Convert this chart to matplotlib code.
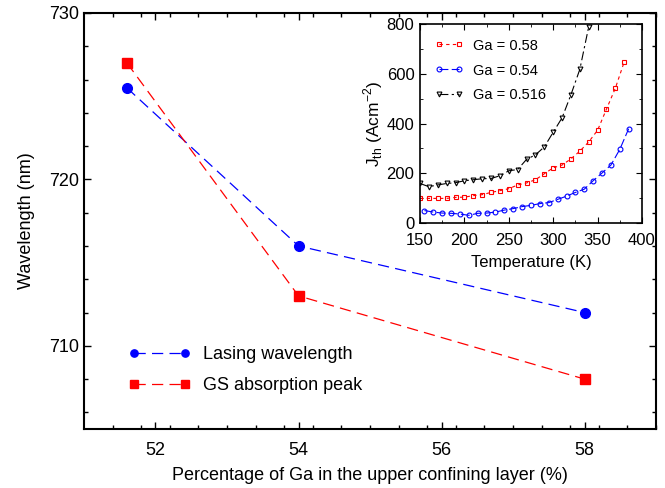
import matplotlib
matplotlib.use('Agg')
import matplotlib.pyplot as plt

plt.rcParams['font.family'] = ['Liberation Sans', 'DejaVu Sans']

# main panel
ga_pct = [51.6, 54, 58]
lasing = [725.5, 716, 712]
gs_abs = [727, 713, 708]

# inset: threshold current density vs temperature
t_058 = [150,160,170,180,190,200,210,220,230,240,250,260,270,280,290,300,310,320,330,340,350,360,370,380]
j_058 = [99,99,99,99,103,104,110,114,123,130,138,153,161,174,198,222,233,258,289,326,373,458,542,648]
t_054 = [155,165,175,185,195,205,215,225,235,245,255,265,275,285,295,305,315,325,335,345,355,365,375,385]
j_054 = [50,44,40,39,36,31,39,40,44,52,58,66,71,78,82,95,108,123,136,170,201,233,296,379]
t_0516 = [150,160,170,180,190,200,210,220,230,240,250,260,270,280,290,300,310,320,330,340]
j_0516 = [159,146,153,159,162,170,174,178,179,190,210,215,256,274,306,365,423,516,618,789]

fig = plt.figure(figsize=(6.65, 4.88), dpi=100)
ax = fig.add_axes([0.1263, 0.1209, 0.8602, 0.8525])

ax.plot(ga_pct, lasing, color='#0000ff', lw=0.9, ls=(0, (9, 5)), marker='o', ms=7,
        label='Lasing wavelength')
ax.plot(ga_pct, gs_abs, color='#ff0000', lw=0.9, ls=(0, (9, 5)), marker='s', ms=7,
        label='GS absorption peak')
ax.set_xlim(51, 59)
ax.set_ylim(705, 730)
ax.set_xticks([52, 54, 56, 58])
ax.set_yticks([710, 720, 730])
ax.set_xticks([51.4 + 0.4 * i for i in range(20)], minor=True)
ax.set_yticks(range(706, 730, 2), minor=True)
ax.tick_params(which='both', direction='in', top=True, right=True, labelsize=13, width=1)
ax.tick_params(axis='x', pad=9)
ax.tick_params(which='major', length=5)
ax.tick_params(which='minor', length=3)
for s in ax.spines.values():
    s.set_linewidth(1.5)
ax.set_xlabel('Percentage of Ga in the upper confining layer (%)', fontsize=13, labelpad=6)
ax.set_ylabel('Wavelength (nm)', fontsize=13, labelpad=10)
ax.legend(loc='lower left', bbox_to_anchor=(0.05, 0.045), frameon=False, fontsize=13,
          numpoints=2, handlelength=3.4, labelspacing=0.75, markerscale=0.75,
          handletextpad=0.7)

ins = fig.add_axes([0.6316, 0.543, 0.3338, 0.4078])
ins.plot(t_058, j_058, color='#ff0000', lw=0.8, ls=(0, (3, 3)), marker='s', ms=3.5,
         mfc='none', mew=0.8, label='Ga = 0.58')
ins.plot(t_054, j_054, color='#0000ff', lw=0.8, ls=(0, (8, 3)), marker='o', ms=3.5,
         mfc='none', mew=0.8, label='Ga = 0.54')
ins.plot(t_0516, j_0516, color='black', lw=0.8, ls=(0, (8, 3, 2, 3)), marker='v', ms=3.5,
         mfc='none', mew=0.8, label='Ga = 0.516')
ins.set_xlim(150, 400)
ins.set_ylim(0, 800)
ins.set_xticks(range(150, 401, 50))
ins.set_yticks(range(0, 801, 200))
ins.set_xticks(range(175, 400, 50), minor=True)
ins.set_yticks(range(100, 800, 200), minor=True)
ins.tick_params(which='both', direction='in', top=True, right=True, labelsize=12)
ins.tick_params(axis='x', pad=7)
ins.tick_params(axis='y', pad=4)
ins.tick_params(which='major', length=4)
ins.tick_params(which='minor', length=2)
for s in ins.spines.values():
    s.set_linewidth(1.2)
ins.set_xlabel('Temperature (K)', fontsize=12, labelpad=5)
ins.set_ylabel('J$_{\\mathregular{th}}$ (Acm$^{\\mathregular{-2}}$)', fontsize=12.5, labelpad=1)
ins.legend(loc='upper left', frameon=False, fontsize=10.5, numpoints=2,
           handlelength=2.0, labelspacing=0.75, borderaxespad=0.6, handletextpad=0.6)

fig.savefig('out.png', dpi=100)
